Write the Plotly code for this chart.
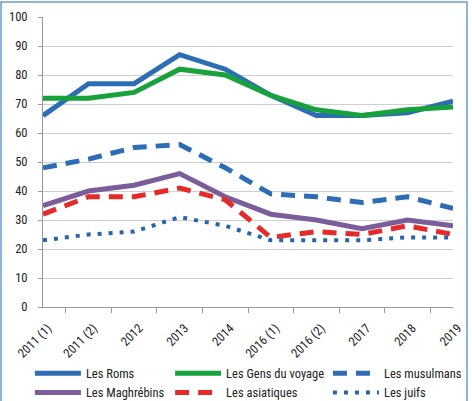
import plotly.graph_objects as go

categories = ["2011 (1)", "2011 (2)", "2012", "2013", "2014", "2016 (1)", "2016 (2)", "2017", "2018", "2019"]
roms = [66, 77, 77, 87, 82, 73, 66, 66, 67, 71]
gens_du_voyage = [72, 72, 74, 82, 80, 73, 68, 66, 68, 69]
musulmans = [48, 51, 55, 56, 48, 39, 38, 36, 38, 34]
maghrebins = [35, 40, 42, 46, 38, 32, 30, 27, 30, 28]
asiatiques = [32, 38, 38, 41, 37, 24, 26, 25, 28, 25]
juifs = [23, 25, 26, 31, 28, 23, 23, 23, 24, 24]

FONT = "Liberation Sans Narrow, Roboto Condensed, Arial Narrow, sans-serif"

# name, values, color, dash, width, legend column
series = [
    ("Les Roms", roms, "#2c6db5", "solid", 5, "legend"),
    ("Les Gens du voyage", gens_du_voyage, "#17a23c", "solid", 5, "legend2"),
    ("Les musulmans", musulmans, "#2c6db5", "14px,9px", 5, "legend3"),
    ("Les Maghrébins", maghrebins, "#7b5d99", "solid", 5, "legend"),
    ("Les asiatiques", asiatiques, "#e52a2a", "14px,9px", 5, "legend2"),
    ("Les juifs", juifs, "#2565ae", "4px,7px", 4, "legend3"),
]

fig = go.Figure()
for name, vals, color, dash, w, lg in series:
    fig.add_trace(go.Scatter(
        x=categories, y=vals, name=name, mode="lines", legend=lg,
        line=dict(color=color, width=w, dash=dash),
    ))

def leg(x):
    return dict(
        orientation="v", x=x, y=-0.178, xanchor="left", yanchor="top",
        font=dict(family=FONT, size=12.5, color="#222"),
        tracegroupgap=0, itemwidth=46, bgcolor="rgba(0,0,0,0)",
    )

fig.update_layout(
    width=472, height=401,
    margin=dict(l=43, r=19, t=17, b=94, autoexpand=False),
    paper_bgcolor="white", plot_bgcolor="white",
    font=dict(family=FONT, size=12, color="#222"),
    showlegend=True,
    legend=leg(-0.032), legend2=leg(0.31), legend3=leg(0.695),
    xaxis=dict(
        type="category", tickangle=-45, tickson="boundaries",
        ticks="outside", ticklen=5, tickcolor="#999",
        showline=True, linecolor="#999", linewidth=1,
        showgrid=False, tickfont=dict(size=12.5, family=FONT),
        automargin=False, ticklabelshift=5, ticklabelstandoff=8,
    ),
    yaxis=dict(
        range=[0, 100], dtick=10, ticks="outside", ticklen=4, tickcolor="#999",
        showline=True, linecolor="#999", linewidth=1,
        showgrid=True, gridcolor="#cfcfcf", gridwidth=1,
        zeroline=False, tickfont=dict(size=12.5, family=FONT),
        automargin=False, ticklabelstandoff=8,
    ),
    shapes=[dict(type="rect", xref="paper", yref="paper",
                 x0=-42/410, x1=(467-43)/410, y0=-94/290 - 0.01, y1=1 + 15/290,
                 line=dict(color="#6a9fd0", width=1.5), fillcolor="rgba(0,0,0,0)", layer="below")],
)

fig.write_html("out.html")
